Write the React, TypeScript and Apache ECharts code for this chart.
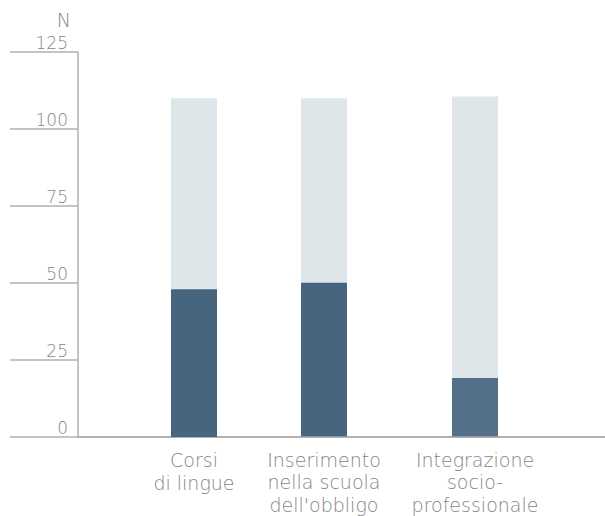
import React, { useEffect, useRef } from "react";
import * as echarts from "echarts";

const categories = [
  "Corsi\ndi lingue",
  "Inserimento\nnella scuola\ndell'obbligo",
  "Integrazione\nsocio-\nprofessionale",
];
const darkValues = [48, 50, 19];
const totalValues = [110, 110, 110.5];
const yTicks = [0, 25, 50, 75, 100, 125];

// layout: horizontal centre of each category slot (px)
const slotCenters = [194, 324, 475];
const slotWidth = 120;

const darkColors = ["#486580", "#486580", "#536f89"];
const lightColor = "#dfe6ea";
const axisColor = "#b0b0b0";
const textColor = "#858585";
const font = "'DejaVu Sans', sans-serif";

export default function App() {
  const ref = useRef<HTMLDivElement>(null);
  useEffect(() => {
    document.body.style.margin = "0";
    if (!ref.current) return;
    const chart = echarts.init(ref.current, null, { renderer: "svg" });
    const yMax = yTicks[yTicks.length - 1];
    const yStep = yTicks[1] - yTicks[0];
    const top = 52;
    const bottom = 79;

    const grids: any[] = [{ left: 78, right: 0, top, bottom }];
    const xAxes: any[] = [
      {
        gridIndex: 0,
        type: "value",
        min: 0,
        max: 1,
        axisLine: { show: true, onZero: false, lineStyle: { color: axisColor, width: 2 } },
        axisTick: { show: false },
        axisLabel: { show: false },
        splitLine: { show: false },
      },
    ];
    const yAxes: any[] = [
      {
        gridIndex: 0,
        type: "value",
        min: 0,
        max: yMax,
        interval: yStep,
        name: "N",
        nameLocation: "end",
        nameGap: 23,
        nameTextStyle: {
          color: textColor,
          fontFamily: font,
          fontWeight: 200,
          fontSize: 19,
          lineHeight: 19,
          align: "right",
          verticalAlign: "bottom",
          padding: [0, 7, 0, 0],
        },
        axisLine: { show: true, lineStyle: { color: axisColor, width: 1.5 } },
        axisTick: { show: true, inside: false, length: 68, lineStyle: { color: axisColor, width: 1.5 } },
        axisLabel: {
          color: textColor,
          fontFamily: font,
          fontWeight: 200,
          fontSize: 17,
          lineHeight: 17,
          margin: 10,
          verticalAlign: "bottom",
          padding: [0, 0, 1, 0],
        },
        splitLine: { show: false },
      },
    ];
    const series: any[] = [];

    categories.forEach((cat, i) => {
      const gi = i + 1;
      grids.push({ left: slotCenters[i] - slotWidth / 2, width: slotWidth, top, bottom });
      xAxes.push({
        gridIndex: gi,
        type: "category",
        data: [cat],
        axisLine: { show: false },
        axisTick: { show: false },
        axisLabel: {
          interval: 0,
          color: textColor,
          fontFamily: font,
          fontWeight: 200,
          fontSize: 19,
          lineHeight: 22.5,
          margin: 12,
        },
      });
      yAxes.push({ gridIndex: gi, type: "value", min: 0, max: yMax, interval: yStep, show: false });
      series.push({
        type: "bar",
        xAxisIndex: gi,
        yAxisIndex: gi,
        data: [totalValues[i]],
        barWidth: 46,
        itemStyle: { color: lightColor },
        silent: true,
      });
      series.push({
        type: "bar",
        xAxisIndex: gi,
        yAxisIndex: gi,
        barGap: "-100%",
        barWidth: 46,
        data: [darkValues[i]],
        itemStyle: { color: darkColors[i] },
      });
    });

    chart.setOption({
      animation: false,
      grid: grids,
      xAxis: xAxes,
      yAxis: yAxes,
      series,
    });
    return () => chart.dispose();
  }, []);
  return <div ref={ref} style={{ width: 605, height: 516 }} />;
}
